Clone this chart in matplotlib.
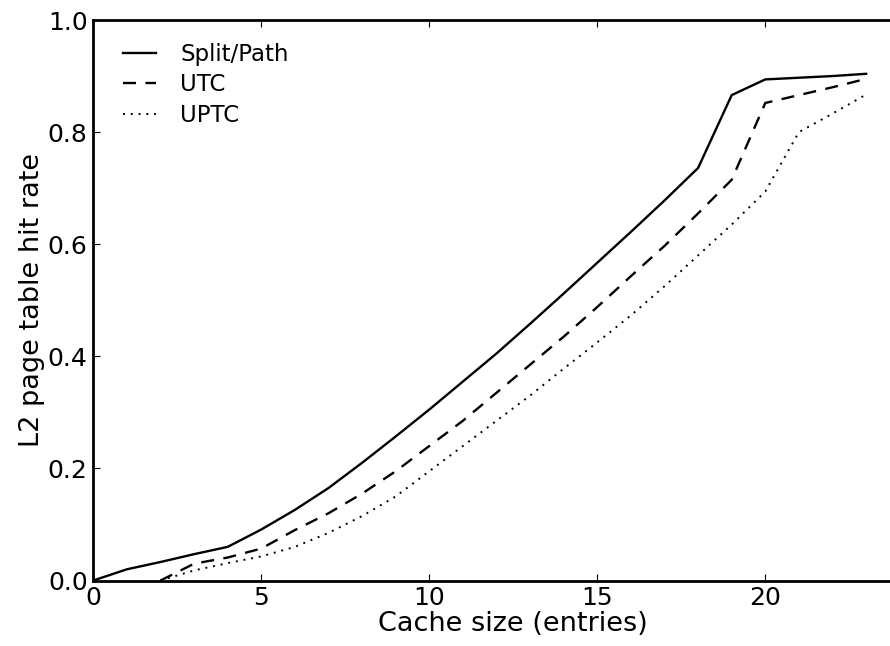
import matplotlib
matplotlib.use("Agg")
import matplotlib.pyplot as plt
import numpy as np

cache_sizes = [0, 1, 2, 3, 4, 5, 6, 7, 8, 9, 10, 11, 12, 13, 14, 15, 16, 17, 18, 19, 20, 21, 22, 23]
split_path = [0.0, 0.020, 0.033, 0.047, 0.060, 0.091, 0.126, 0.165, 0.210, 0.257, 0.305, 0.355,
              0.405, 0.458, 0.512, 0.567, 0.622, 0.678, 0.736, 0.866, 0.894, 0.897, 0.900, 0.904]
utc = [np.nan, np.nan, 0.0, 0.030, 0.041, 0.057, 0.090, 0.120, 0.155, 0.195, 0.240, 0.285,
       0.335, 0.385, 0.435, 0.488, 0.543, 0.597, 0.655, 0.715, 0.852, 0.866, 0.880, 0.895]
uptc = [np.nan, np.nan, 0.0, 0.018, 0.031, 0.043, 0.060, 0.085, 0.115, 0.150, 0.195, 0.240,
        0.285, 0.330, 0.378, 0.425, 0.473, 0.525, 0.580, 0.635, 0.694, 0.800, 0.833, 0.867]
labels = ["Split/Path", "UTC", "UPTC"]

W, H = 890, 646
fig = plt.figure(figsize=(W / 100, H / 100), dpi=100)
x0, x25 = 93.3, 93.3 + 25 * 33.6
ybot, ytop = 580.5, 20.0
ax = fig.add_axes([x0 / W, 1 - ybot / H, (x25 - x0) / W, (ybot - ytop) / H])

ax.plot(cache_sizes, split_path, color="black", lw=1.7, ls="-", label=labels[0])
ax.plot(cache_sizes, utc, color="black", lw=1.7, ls=(0, (5.5, 4)), label=labels[1])
ax.plot(cache_sizes, uptc, color="black", lw=1.4, ls=(0, (1, 3)), label=labels[2])

ax.set_xlim(0, 25)
ax.set_ylim(0, 1.0)
ax.set_xticks([0, 5, 10, 15, 20])
ax.set_yticks([0.0, 0.2, 0.4, 0.6, 0.8, 1.0])
ax.set_yticklabels(["0.0", "0.2", "0.4", "0.6", "0.8", "1.0"])
ax.tick_params(direction="in", length=5, width=0.8, labelsize=18, pad=4)
ax.tick_params(top=True, right=True)
for s in ax.spines.values():
    s.set_linewidth(2.0)

ax.set_xlabel("Cache size (entries)", fontsize=19.5, labelpad=1)
ax.set_ylabel("L2 page table hit rate", fontsize=19.5, labelpad=2)

leg = ax.legend(loc="upper left", frameon=False, fontsize=16.5, handlelength=1.45,
                handletextpad=1.05, bbox_to_anchor=(0.008, 1.0), borderaxespad=0.6,
                labelspacing=0.33)

fig.savefig("out.png", dpi=100)
